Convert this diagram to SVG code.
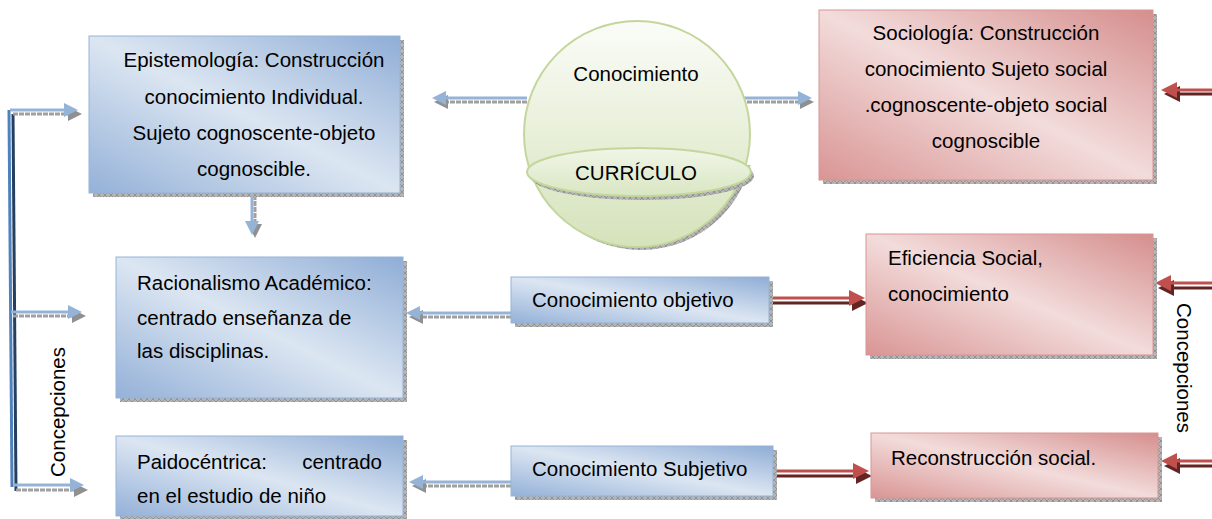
<svg xmlns="http://www.w3.org/2000/svg" width="1212" height="519" viewBox="0 0 1212 519">
<style>
text{font-family:"Liberation Sans",Arial,sans-serif;font-size:20.5px;fill:#000}
.c{text-anchor:middle}
.bl{stroke:#95b3d7;stroke-width:1}
.sh{fill:url(#hatch)}
.bline{stroke:#95b3d7;stroke-width:3;fill:none}
.bsh{stroke:#a0a0a0;stroke-width:3;fill:none;stroke-dasharray:5 1}
.rline{stroke:#c0504d;stroke-width:3;fill:none}
.rsh{stroke:#632523;stroke-width:3;fill:none}
</style>
<defs>
<pattern id="hatch" width="6" height="6" patternUnits="userSpaceOnUse">
<rect width="6" height="6" fill="#b4b4b4"/>
<path d="M0 0L6 6M6 0L0 6" stroke="#858585" stroke-width="0.7"/>
</pattern>
<linearGradient id="gb" x1="1" y1="0" x2="0" y2="1">
<stop offset="0" stop-color="#8fadd6"/>
<stop offset="0.5" stop-color="#dce6f2"/>
<stop offset="1" stop-color="#94b1d8"/>
</linearGradient>
<linearGradient id="gr" x1="1" y1="0" x2="0" y2="1">
<stop offset="0" stop-color="#d58e8d"/>
<stop offset="0.5" stop-color="#f2dcdb"/>
<stop offset="1" stop-color="#d99594"/>
</linearGradient>
<linearGradient id="gg" x1="0" y1="0" x2="0" y2="1">
<stop offset="0" stop-color="#fbfcf8"/>
<stop offset="1" stop-color="#d5e3bb"/>
</linearGradient>
<linearGradient id="ge" x1="0" y1="0" x2="0" y2="1">
<stop offset="0" stop-color="#f1f6e8"/>
<stop offset="1" stop-color="#d9e6c2"/>
</linearGradient>
<clipPath id="lower"><rect x="500" y="165" width="280" height="100"/></clipPath>
<marker id="mb" viewBox="0 0 14 14" refX="2" refY="7" markerWidth="14" markerHeight="14" markerUnits="userSpaceOnUse" orient="auto"><path d="M0 0L14 7L0 14Z" fill="#95b3d7"/></marker>
<marker id="mbs" viewBox="0 0 14 14" refX="2" refY="7" markerWidth="14" markerHeight="14" markerUnits="userSpaceOnUse" orient="auto"><path d="M0 0L14 7L0 14Z" fill="#909090"/></marker>
<marker id="mr" viewBox="0 0 16 16" refX="2" refY="8" markerWidth="16" markerHeight="16" markerUnits="userSpaceOnUse" orient="auto"><path d="M0 0L16 8L0 16Z" fill="#c0504d"/></marker>
<marker id="mrs" viewBox="0 0 16 16" refX="2" refY="8" markerWidth="16" markerHeight="16" markerUnits="userSpaceOnUse" orient="auto"><path d="M0 0L16 8L0 16Z" fill="#632523"/></marker>
</defs>
<rect width="1212" height="519" fill="#fff"/>

<g id="connectors">
<path d="M13 114L16 491" stroke="#243f60" stroke-width="3" fill="none"/>
<path class="bline" d="M9 110L12 487" style="stroke:#4f81bd"/>
<path class="bsh" d="M13 114H70" marker-end="url(#mbs)"/>
<path class="bline" d="M10 110H66" marker-end="url(#mb)"/>
<path class="bsh" d="M13 316H74" marker-end="url(#mbs)"/>
<path class="bline" d="M11 312H70" marker-end="url(#mb)"/>
<path class="bsh" d="M16 490H76" marker-end="url(#mbs)"/>
<path class="bline" d="M13 485H72" marker-end="url(#mb)"/>
<path class="bsh" d="M527 102H446" marker-end="url(#mbs)"/>
<path class="bline" d="M527 98H444" marker-end="url(#mb)"/>
<path class="bsh" d="M741 102H802" marker-end="url(#mbs)"/>
<path class="bline" d="M741 98H800" marker-end="url(#mb)"/>
<path class="bsh" d="M255 195V226" marker-end="url(#mbs)"/>
<path class="bline" d="M252 194V223" marker-end="url(#mb)"/>
<path class="bsh" d="M511 317H421" marker-end="url(#mbs)"/>
<path class="bline" d="M511 313H418" marker-end="url(#mb)"/>
<path class="bsh" d="M511 486H424" marker-end="url(#mbs)"/>
<path class="bline" d="M511 482H421" marker-end="url(#mb)"/>
<path class="rsh" d="M772 303H854" marker-end="url(#mrs)"/>
<path class="rline" d="M772 298H851" marker-end="url(#mr)"/>
<path class="rsh" d="M775 476H858" marker-end="url(#mrs)"/>
<path class="rline" d="M775 471H855" marker-end="url(#mr)"/>
<path class="rsh" d="M1212 94H1178" marker-end="url(#mrs)"/>
<path class="rline" d="M1212 90H1175" marker-end="url(#mr)"/>
<path class="rsh" d="M1212 288H1172" marker-end="url(#mrs)"/>
<path class="rline" d="M1212 283H1169" marker-end="url(#mr)"/>
<path class="rsh" d="M1212 466H1178" marker-end="url(#mrs)"/>
<path class="rline" d="M1212 461H1175" marker-end="url(#mr)"/>
</g>

<g id="curriculo">
<circle cx="641" cy="137" r="113" class="sh" clip-path="url(#lower)"/>
<circle cx="637" cy="134" r="113" fill="url(#gg)" stroke="#c3d69b" stroke-width="2"/>
<ellipse cx="642" cy="176" rx="112" ry="24" class="sh"/>
<ellipse cx="639" cy="172" rx="112" ry="24" fill="url(#ge)" stroke="#c3d69b" stroke-width="2"/>
<text class="c" x="636" y="81">Conocimiento</text>
<text class="c" x="636" y="180">CURRÍCULO</text>
</g>

<g id="epistemologia">
<rect x="93" y="40" width="311" height="157" class="sh"/>
<rect x="89" y="36" width="311" height="157" fill="url(#gb)" class="bl"/>
<text class="c" x="254" y="67">Epistemología: Construcción</text>
<text class="c" x="254" y="104">conocimiento Individual.</text>
<text class="c" x="254" y="140">Sujeto cognoscente-objeto</text>
<text class="c" x="254" y="176">cognoscible.</text>
</g>

<g id="racionalismo">
<rect x="120" y="261" width="287" height="141" class="sh"/>
<rect x="116" y="257" width="287" height="141" fill="url(#gb)" class="bl"/>
<text x="137" y="290">Racionalismo Académico:</text>
<text x="137" y="325">centrado enseñanza de</text>
<text x="137" y="358">las disciplinas.</text>
</g>

<g id="paidocentrica">
<rect x="120" y="440" width="287" height="80" class="sh"/>
<rect x="116" y="436" width="287" height="80" fill="url(#gb)" class="bl"/>
<text x="137" y="469">Paidocéntrica:</text>
<text x="382" y="469" text-anchor="end">centrado</text>
<text x="137" y="503">en el estudio de niño</text>
</g>

<g id="objetivo">
<rect x="515" y="281" width="258" height="46" class="sh"/>
<rect x="511" y="277" width="258" height="46" fill="url(#gb)" class="bl"/>
<text x="532" y="307">Conocimiento objetivo</text>
</g>

<g id="subjetivo">
<rect x="515" y="450" width="262" height="50" class="sh"/>
<rect x="511" y="446" width="262" height="50" fill="url(#gb)" class="bl"/>
<text x="532" y="476">Conocimiento Subjetivo</text>
</g>

<g id="sociologia">
<rect x="823" y="14" width="334" height="170" class="sh"/>
<rect x="819" y="10" width="334" height="170" fill="url(#gr)" stroke="#d99594"/>
<text class="c" x="986" y="40">Sociología: Construcción</text>
<text class="c" x="986" y="76">conocimiento Sujeto social</text>
<text class="c" x="986" y="112">.cognoscente-objeto social</text>
<text class="c" x="986" y="148">cognoscible</text>
</g>

<g id="eficiencia">
<rect x="870" y="238" width="287" height="121" class="sh"/>
<rect x="866" y="234" width="287" height="121" fill="url(#gr)" stroke="#d99594"/>
<text x="888" y="265">Eficiencia Social,</text>
<text x="888" y="301">conocimiento</text>
</g>

<g id="reconstruccion">
<rect x="875" y="437" width="287" height="65" class="sh"/>
<rect x="871" y="433" width="287" height="65" fill="url(#gr)" stroke="#d99594"/>
<text x="891" y="465">Reconstrucción social.</text>
</g>

<g id="labels">
<text class="c" transform="translate(65 412) rotate(-90)">Concepciones</text>
<text class="c" transform="translate(1177 368) rotate(90)">Concepciones</text>
</g>
</svg>
